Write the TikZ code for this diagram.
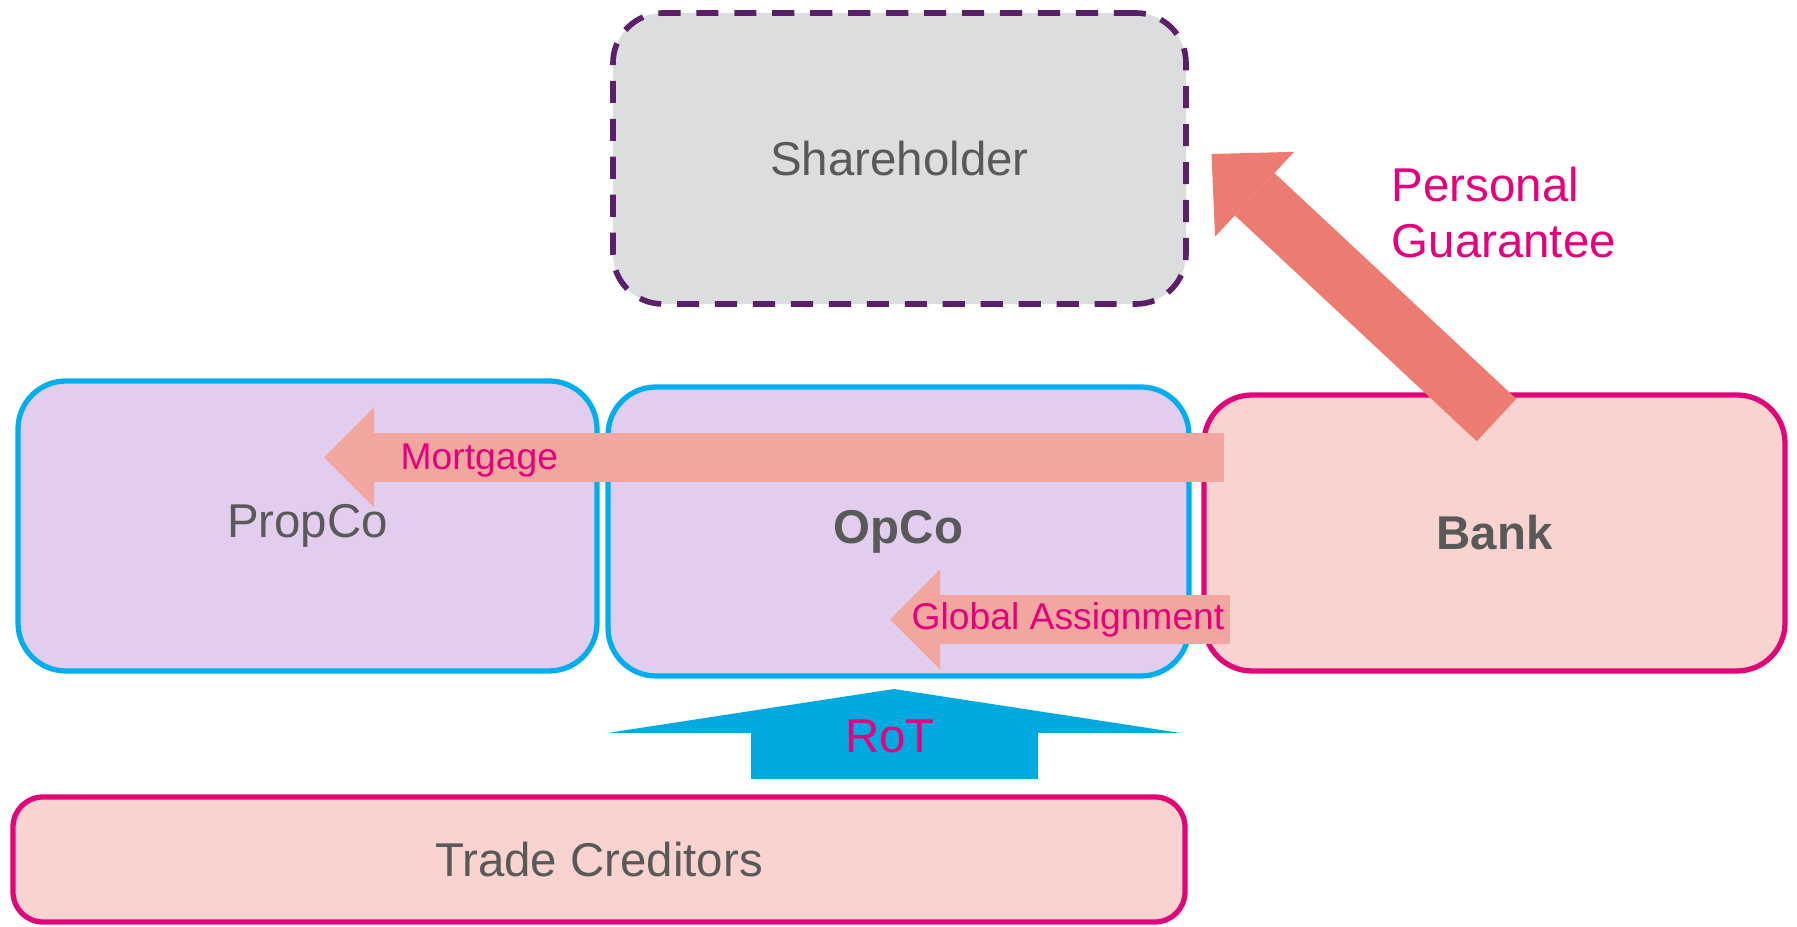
\documentclass[tikz,border=0pt]{standalone}
\usepackage{fontspec}
\setmainfont{Liberation Sans}
\usetikzlibrary{arrows.meta}

\definecolor{labelgray}{HTML}{595959}
\definecolor{hotpink}{HTML}{E5007D}
\definecolor{ownerfill}{HTML}{DCDDDF}
\definecolor{ownerline}{HTML}{5B1F69}
\definecolor{groupfill}{HTML}{E2CDEE}
\definecolor{groupline}{HTML}{00AEEF}
\definecolor{lenderfill}{HTML}{F8D3D0}
\definecolor{lenderline}{HTML}{E0067A}
\definecolor{securitycol}{HTML}{F1A79F}
\definecolor{guaranteecol}{HTML}{EC7B72}
\definecolor{rotcol}{HTML}{00A9DF}

\begin{document}
\begin{tikzpicture}[
    font=\fontsize{13.5}{16}\selectfont,
    entity/.style={
        rectangle,
        rounded corners=4.8mm,
        inner sep=0pt,
        line width=1.5pt,
        text=labelgray,
        minimum width=5.8cm,
        minimum height=2.9cm
    },
    owner/.style={entity, draw=ownerline, fill=ownerfill, line width=1.6pt, dash pattern=on 6.3pt off 4.5pt, rounded corners=5mm},
    group/.style={entity, draw=groupline, fill=groupfill},
    lender/.style={entity, draw=lenderline, fill=lenderfill},
    security/.style={draw=securitycol, line width=4.9mm, -{Triangle[length=5mm, width=10mm, line width=0pt]}},
    guarantee/.style={draw=guaranteecol, line width=5.8mm, -{Triangle[length=5.9mm, width=11.6mm, line width=0pt]}},
    retention/.style={draw=rotcol, line width=28.7mm, -{Triangle[length=4.4mm, width=57.3mm, line width=0pt]}},
    arrowlabel/.style={text=hotpink, inner sep=0pt, font=\fontsize{10.6}{12}\selectfont},
    bigarrowlabel/.style={text=hotpink, inner sep=0pt, align=left}
]
\useasboundingbox (0,0) rectangle (17.97,9.27);

% Entities
\node[owner] (shareholder) at (8.995,7.685) [minimum width=5.73cm, minimum height=2.91cm] {Shareholder};
\node[group] (propco) at (3.075,4.01) [minimum width=5.79cm] {PropCo};
\node[group] (opco) at (8.985,3.955) [minimum width=5.81cm, minimum height=2.89cm] {\textbf{OpCo}};
\node[lender] (bank) at (14.945,3.94) [minimum width=5.81cm, minimum height=2.76cm] {\textbf{Bank}};
\node[lender] (creditors) at (5.99,0.675) [minimum width=11.72cm, minimum height=1.25cm, rounded corners=3mm] {Trade Creditors};

% Arrow ends
\coordinate (mortgage-start) at (12.24,4.695);
\coordinate (mortgage-end) at (3.24,4.695);
\coordinate (assign-start) at (12.30,3.075);
\coordinate (assign-end) at (8.90,3.075);
\coordinate (rot-start) at (8.94,1.48);
\coordinate (rot-end) at (8.94,2.38);
\coordinate (pg-start) at (14.965,5.07);
\coordinate (pg-end) at (12.115,7.73);

% Security arrows
\draw[security] (mortgage-start) -- (mortgage-end);
\draw[security] (assign-start) -- (assign-end);
\draw[retention] (rot-start) -- (rot-end);
\draw[guarantee] (pg-start) -- (pg-end);

% Labels
\node[arrowlabel, anchor=base west] (mortgage) at (4.00,4.57) {Mortgage};
\node[arrowlabel, anchor=base west] (assignment) at (9.11,2.97) {Global Assignment};
\node[bigarrowlabel, anchor=base] (rot) at (8.90,1.74) {RoT};
\node[bigarrowlabel, anchor=base west] (pg) at (13.91,6.69) {Personal\\Guarantee};

\end{tikzpicture}
\end{document}
